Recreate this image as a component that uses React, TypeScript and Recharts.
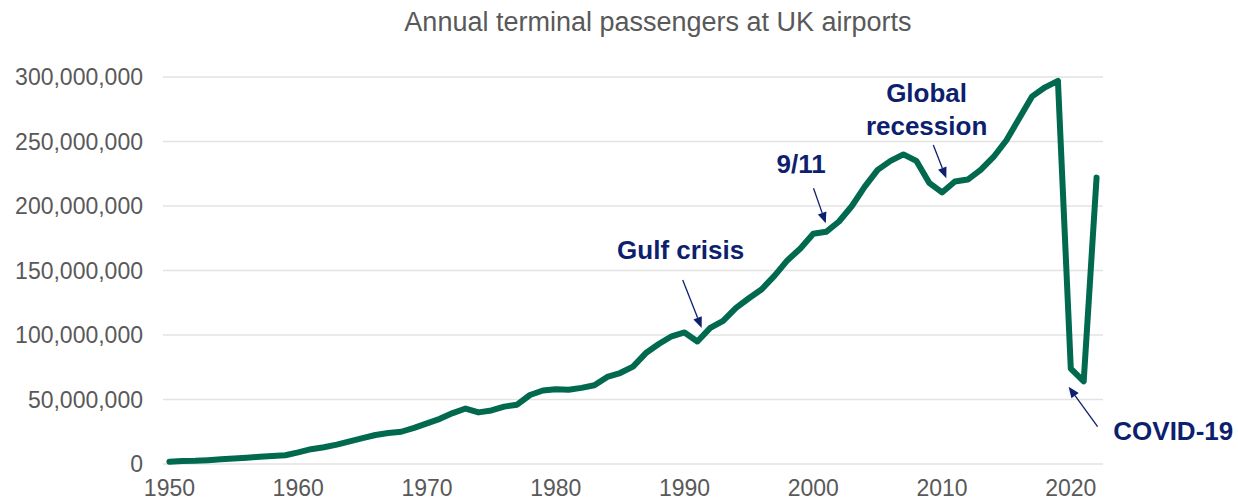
import React from 'react';
import { LineChart, Line, XAxis, YAxis, CartesianGrid, ReferenceLine, ReferenceDot } from 'recharts';

const chartTitle = 'Annual terminal passengers at UK airports';

const years = [
  1950, 1951, 1952, 1953, 1954, 1955, 1956, 1957, 1958, 1959,
  1960, 1961, 1962, 1963, 1964, 1965, 1966, 1967, 1968, 1969,
  1970, 1971, 1972, 1973, 1974, 1975, 1976, 1977, 1978, 1979,
  1980, 1981, 1982, 1983, 1984, 1985, 1986, 1987, 1988, 1989,
  1990, 1991, 1992, 1993, 1994, 1995, 1996, 1997, 1998, 1999,
  2000, 2001, 2002, 2003, 2004, 2005, 2006, 2007, 2008, 2009,
  2010, 2011, 2012, 2013, 2014, 2015, 2016, 2017, 2018, 2019,
  2020, 2021, 2022,
];

// Terminal passengers, millions
const passengersMillions = [
  1.8, 2.3, 2.5, 3.0, 3.6, 4.2, 4.9, 5.6, 6.2, 6.8,
  9.0, 11.5, 13.0, 15.0, 17.5, 20.0, 22.5, 24.0, 25.0, 28.0,
  31.5, 35.0, 39.5, 43.0, 40.0, 41.5, 44.5, 46.0, 53.5, 57.0,
  58.0, 57.5, 59.0, 61.0, 67.5, 70.5, 75.5, 86.0, 93.0, 99.0,
  102.0, 95.0, 105.5, 111.0, 121.0, 128.5, 135.5, 146.0, 158.0, 167.0,
  178.5, 180.0, 188.0, 200.0, 215.0, 228.0, 235.0, 240.0, 235.0, 218.0,
  210.5, 219.0, 220.5, 228.0, 238.0, 251.0, 268.0, 285.0, 292.0, 297.0,
  74.0, 64.0, 222.0,
];

const xTicks = [1950, 1960, 1970, 1980, 1990, 2000, 2010, 2020];
const yTicks = [0, 50000000, 100000000, 150000000, 200000000, 250000000, 300000000];

// Annotation texts: centre of text block in data units
const noteLabels = [
  { x: 1989.7, y: 166e6, lines: ['Gulf crisis'], anchor: 'middle' },
  { x: 1999.05, y: 232.5e6, lines: ['9/11'], anchor: 'middle' },
  { x: 2008.8, y: 274.8e6, lines: ['Global', 'recession'], anchor: 'middle' },
  { x: 2023.3, y: 25.5e6, lines: ['COVID-19'], anchor: 'start' },
];

// Annotation arrows: from (x1,y1) to (x2,y2) in data units
const noteArrows = [
  { x1: 1989.86, y1: 142.6e6, x2: 1991.33, y2: 105.4e6 },
  { x1: 2000.02, y1: 213.7e6, x2: 2000.97, y2: 186.6e6 },
  { x1: 2009.32, y1: 247.3e6, x2: 2010.33, y2: 221.5e6 },
  { x1: 2022.08, y1: 28.9e6, x2: 2019.83, y2: 59.9e6 },
];

const data = years.map((year, i) => ({ year, passengers: passengersMillions[i] * 1e6 }));

const FONT = '"Liberation Sans", Arial, sans-serif';
const NAVY = '#0d1f6e';
const GREEN = '#00694e';
const GREY = '#595959';

const ArrowShape = (props: any) => {
  const { x1, y1, x2, y2 } = props;
  if ([x1, y1, x2, y2].some((v) => typeof v !== 'number' || isNaN(v))) return null;
  const dx = x2 - x1;
  const dy = y2 - y1;
  const len = Math.sqrt(dx * dx + dy * dy) || 1;
  const ux = dx / len;
  const uy = dy / len;
  const headLen = 11;
  const headHalf = 4.5;
  const bx = x2 - ux * headLen;
  const by = y2 - uy * headLen;
  const px = -uy;
  const py = ux;
  const pts = `${x2},${y2} ${bx + px * headHalf},${by + py * headHalf} ${bx - px * headHalf},${by - py * headHalf}`;
  return (
    <g>
      <line x1={x1} y1={y1} x2={bx} y2={by} stroke={NAVY} strokeWidth={1.3} />
      <polygon points={pts} fill={NAVY} />
    </g>
  );
};

const makeLabelShape = (lines: string[], anchor: string) => (props: any) => {
  const { cx, cy } = props;
  if (typeof cx !== 'number' || typeof cy !== 'number') return null;
  const lh = 33;
  const startY = cy - ((lines.length - 1) * lh) / 2;
  return (
    <text
      x={cx}
      y={startY}
      textAnchor={anchor as any}
      dominantBaseline="central"
      fontFamily={FONT}
      fontWeight="bold"
      fontSize={26}
      fill={NAVY}
    >
      {lines.map((l, i) => (
        <tspan key={i} x={cx} y={startY + i * lh}>
          {l}
        </tspan>
      ))}
    </text>
  );
};

export default function App() {
  return (
    <div style={{ position: 'absolute', left: 0, top: 0, width: 1238, height: 501, background: '#fff' }}>
      <div
        style={{
          position: 'absolute',
          left: 158,
          width: 1000,
          top: 9,
          textAlign: 'center',
          fontFamily: FONT,
          fontSize: 27,
          lineHeight: '27px',
          color: GREY,
          whiteSpace: 'nowrap',
        }}
      >
        {chartTitle}
      </div>
      <LineChart
        width={1238}
        height={501}
        data={data}
        margin={{ top: 77, right: 135, bottom: 7, left: 0 }}
      >
        <CartesianGrid horizontal={true} vertical={false} stroke="#e3e3e3" strokeWidth={1.5} />
        <XAxis
          dataKey="year"
          type="number"
          domain={[1949.5, 2022.5]}
          ticks={xTicks}
          interval={0}
          axisLine={false}
          tickLine={false}
          tickSize={0}
          tickMargin={16}
          height={30}
          tick={{ fill: GREY, fontSize: 23, fontFamily: FONT }}
        />
        <YAxis
          type="number"
          domain={[0, 300000000]}
          ticks={yTicks}
          interval={0}
          width={163}
          axisLine={false}
          tickLine={false}
          tickSize={0}
          tickMargin={20}
          tickFormatter={(v: number) => v.toLocaleString('en-US')}
          tick={{ fill: GREY, fontSize: 23, fontFamily: FONT }}
        />
        <Line
          type="linear"
          dataKey="passengers"
          stroke={GREEN}
          strokeWidth={6}
          strokeLinejoin="round"
          strokeLinecap="round"
          dot={false}
          activeDot={false}
          isAnimationActive={false}
        />
        {noteArrows.map((a, i) => (
          <ReferenceLine
            key={'arrow' + i}
            segment={[
              { x: a.x1, y: a.y1 },
              { x: a.x2, y: a.y2 },
            ]}
            ifOverflow="visible"
            shape={ArrowShape}
          />
        ))}
        {noteLabels.map((n, i) => (
          <ReferenceDot
            key={'label' + i}
            x={n.x}
            y={n.y}
            r={0}
            ifOverflow="visible"
            shape={makeLabelShape(n.lines, n.anchor)}
          />
        ))}
      </LineChart>
    </div>
  );
}
